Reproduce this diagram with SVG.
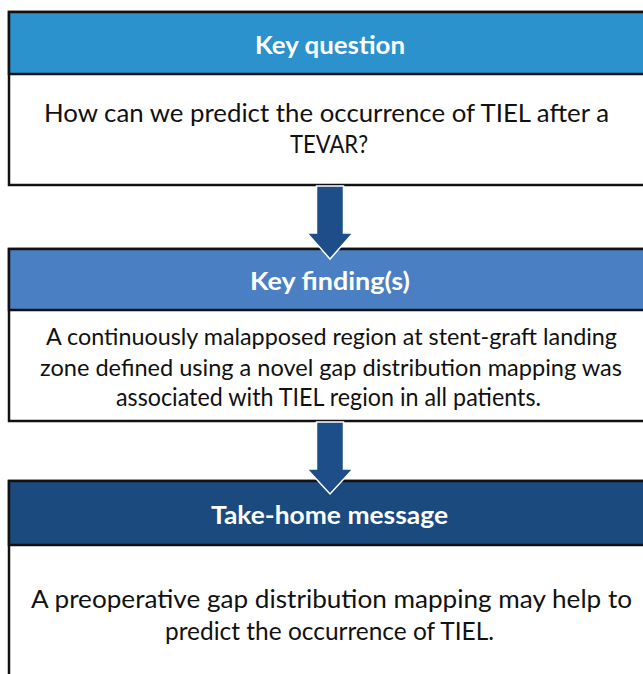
<svg xmlns="http://www.w3.org/2000/svg" width="643" height="674" viewBox="0 0 643 674">
  <style>
    .frame { fill: #ffffff; stroke: #111111; stroke-width: 2.5; }
    .band { stroke: #111111; stroke-width: 2.5; }
    .head { font-family: Lato, "Open Sans", sans-serif; font-weight: bold; font-size: 25px; fill: #ffffff; text-anchor: middle; }
    .body { font-family: Lato, "Open Sans", sans-serif; font-size: 25px; fill: #111111; text-anchor: middle; }
    .tight { font-size: 24px; }
    .arrow { fill: #1d4e89; stroke: #ffffff; stroke-width: 1.5; stroke-linejoin: miter; }
  </style>
  <rect width="643" height="674" fill="#ffffff"/>

  <g id="key-question">
    <rect class="frame" x="9" y="12" width="650" height="173"/>
    <rect class="band" x="9" y="12" width="650" height="62" fill="#2b92cd"/>
    <text class="head" x="330" y="54" textLength="150" lengthAdjust="spacingAndGlyphs">Key question</text>
    <text class="body" x="326.5" y="122" textLength="565" lengthAdjust="spacingAndGlyphs">How can we predict the occurrence of TIEL after a</text>
    <text class="body" x="329" y="153" textLength="78" lengthAdjust="spacingAndGlyphs">TEVAR?</text>
  </g>

  <g id="key-findings">
    <rect class="frame" x="9" y="249" width="650" height="172"/>
    <rect class="band" x="9" y="249" width="650" height="61" fill="#4a80c3"/>
    <text class="head" x="330" y="290" textLength="160" lengthAdjust="spacingAndGlyphs">Key finding(s)</text>
    <text class="body tight" x="331.5" y="345" textLength="571" lengthAdjust="spacingAndGlyphs">A continuously malapposed region at stent-graft landing</text>
    <text class="body tight" x="331" y="376" textLength="582" lengthAdjust="spacingAndGlyphs">zone defined using a novel gap distribution mapping was</text>
    <text class="body" x="328.5" y="406" textLength="425" lengthAdjust="spacingAndGlyphs">associated with TIEL region in all patients.</text>
  </g>

  <g id="take-home">
    <rect class="frame" x="9" y="481" width="650" height="220"/>
    <rect class="band" x="9" y="481" width="650" height="64" fill="#1b4a7f"/>
    <text class="head" x="329.5" y="524" textLength="237" lengthAdjust="spacingAndGlyphs">Take-home message</text>
    <text class="body" x="331.5" y="608" textLength="601" lengthAdjust="spacingAndGlyphs">A preoperative gap distribution mapping may help to</text>
    <text class="body" x="329.5" y="640" textLength="329" lengthAdjust="spacingAndGlyphs">predict the occurrence of TIEL.</text>
  </g>

  <g id="connectors">
    <path class="arrow" d="M316.5 186 L343.5 186 L343.5 233 L353 233 L330 259 L307 233 L316.5 233 Z"/>
    <path class="arrow" d="M316.5 422 L343.5 422 L343.5 469 L353 469 L330 494 L307 469 L316.5 469 Z"/>
  </g>
</svg>
